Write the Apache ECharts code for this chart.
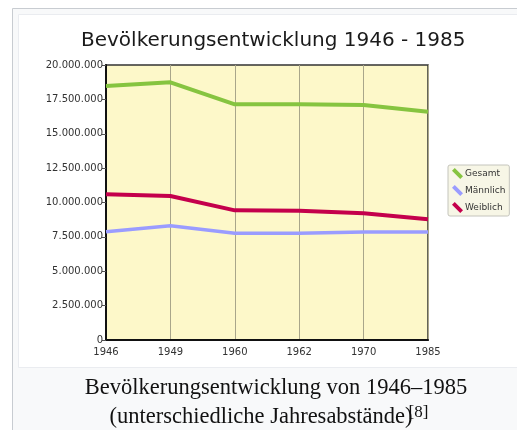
<!DOCTYPE html>
<html><head><meta charset="utf-8">
<script src="https://cdn.jsdelivr.net/npm/echarts@6/dist/echarts.min.js"></script>
<style>html,body{margin:0;padding:0;background:#fff}#c{width:517px;height:430px}</style>
</head><body><div id="c"></div>
<script>
var years = ['1946','1949','1960','1962','1970','1985'];
var gesamt = [18470000, 18740000, 17140000, 17140000, 17090000, 16600000];
var maennlich = [7880000, 8310000, 7760000, 7760000, 7850000, 7850000];
var weiblich = [10600000, 10470000, 9430000, 9400000, 9210000, 8780000];
var seriesNames = ['Gesamt', 'Männlich', 'Weiblich'];
var colors = ['#86c440', '#9a9cff', '#c4004c'];

function fmt(v){ return String(v).replace(/\B(?=(\d{3})+(?!\d))/g, '.'); }
var icon = 'path://M2.5,0 L10,7.5 L7.5,10 L0,2.5 Z';
var chart = echarts.init(document.getElementById('c'), null, {renderer:'canvas'});
chart.setOption({
  animation: false,
  backgroundColor: '#ffffff',
  graphic: [
    {type:'rect', z:-10, shape:{x:12.5,y:8.5,width:520,height:430}, style:{fill:'#f8f9fa', stroke:'#c8ccd1', lineWidth:1}},
    {type:'rect', z:-9, shape:{x:18.5,y:14.5,width:510,height:353}, style:{fill:'#ffffff', stroke:'#eaecf0', lineWidth:1}},
    {type:'text', z:10, x:276, y:377, style:{
      text:'Bevölkerungsentwicklung von 1946–1985',
      font:'22.5px "Liberation Serif", serif', fill:'#111', align:'center', verticalAlign:'top'
    }},
    {type:'text', z:10, x:269, y:404, style:{
      text:'(unterschiedliche Jahresabstände){s|[8]}',
      font:'22.5px "Liberation Serif", serif', fill:'#111', align:'center', verticalAlign:'top',
      rich:{s:{fontSize:17, fontFamily:'Liberation Serif', verticalAlign:'top', padding:[0,0,10,-4], fill:'#111'}}
    }}
  ],
  title: {
    text: 'Bevölkerungsentwicklung 1946 - 1985',
    left: 76, top: 26,
    textStyle: {fontFamily:'DejaVu Sans', fontSize:20, fontWeight:'normal', color:'#1a1a1a'}
  },
  legend: {
    orient:'vertical', left:448, top:165,
    data: seriesNames.map(function(n){ return {name:n, icon:icon}; }),
    itemWidth:11, itemHeight:11, itemGap:6,
    padding:[3,4,3,4],
    backgroundColor:'#f7f6e6', borderColor:'#c4c4bc', borderWidth:1, borderRadius:2,
    textStyle:{fontFamily:'DejaVu Sans', fontSize:9, color:'#333', padding:[0,0,0,-3]}
  },
  grid: {left:106, top:65, right:89, bottom:90, show:true, backgroundColor:'#fdf8c9', borderColor:'#333', borderWidth:1.5},
  xAxis: {
    type:'category', data: years, boundaryGap:false,
    axisLine:{lineStyle:{color:'#111', width:2}},
    axisTick:{show:false},
    axisLabel:{fontFamily:'DejaVu Sans', fontSize:10, color:'#333', margin:7},
    splitLine:{show:true, lineStyle:{color:'#a9a68a', width:1}}
  },
  yAxis: {
    type:'value', min:0, max:20000000, interval:2500000,
    axisLine:{show:true, lineStyle:{color:'#111', width:2}},
    axisTick:{show:true, length:4, lineStyle:{color:'#555'}},
    axisLabel:{fontFamily:'DejaVu Sans', fontSize:10, color:'#333', margin:3, formatter:fmt},
    splitLine:{show:false}
  },
  series: [
    {name:seriesNames[0], type:'line', data:gesamt, symbol:'none', color:colors[0], lineStyle:{width:4, color:colors[0]}},
    {name:seriesNames[1], type:'line', data:maennlich, symbol:'none', color:colors[1], lineStyle:{width:3.5, color:colors[1]}},
    {name:seriesNames[2], type:'line', data:weiblich, symbol:'none', color:colors[2], lineStyle:{width:4, color:colors[2]}}
  ]
});
</script></body></html>
